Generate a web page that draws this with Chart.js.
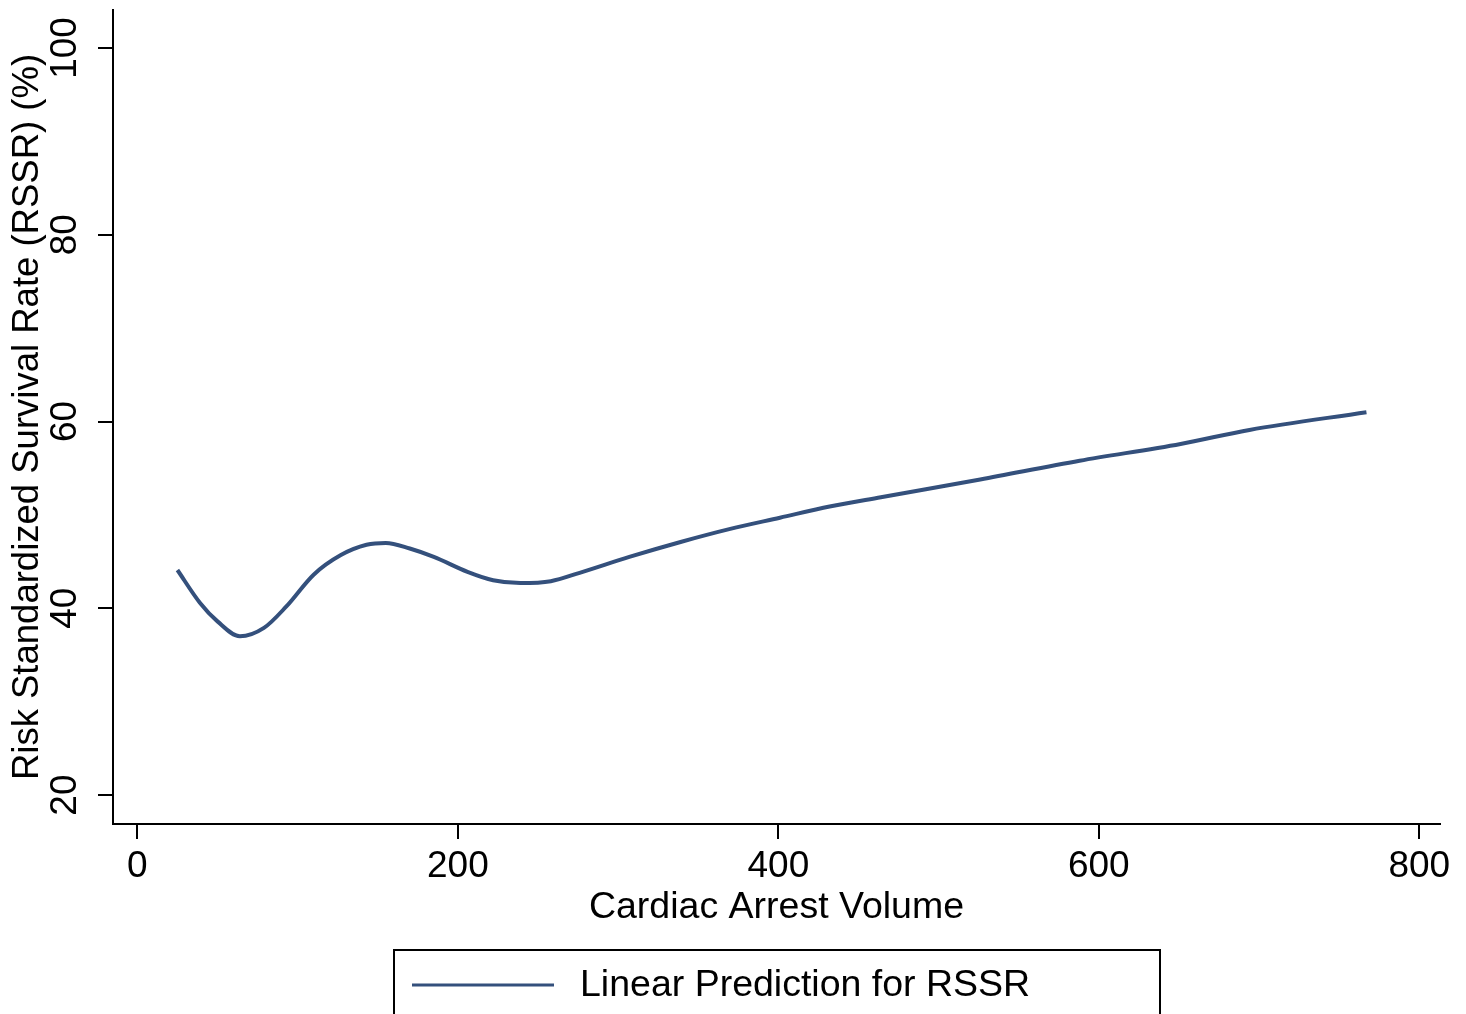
<!DOCTYPE html>
<html>
<head>
<meta charset="utf-8">
<style>
  html, body { margin: 0; padding: 0; background: #fff; }
  #wrap { width: 1466px; height: 1014px; }
</style>
<script src="https://cdn.jsdelivr.net/npm/chart.js@4.4.1/dist/chart.umd.min.js"></script>
</head>
<body>
<div id="wrap"><canvas id="chart" width="1466" height="1014"></canvas></div>
<script>
// Data
var volume = [25, 39, 50, 64, 79, 93, 110, 127, 143, 155, 170, 185, 206, 222, 239, 258, 276, 307, 339, 370, 401, 432, 464, 526, 588, 651, 694, 767];
var rssr = [44.1, 40.6, 38.6, 37.0, 37.9, 40.2, 43.6, 45.7, 46.8, 47.0, 46.4, 45.5, 43.9, 43.0, 42.7, 42.9, 43.8, 45.5, 47.1, 48.5, 49.7, 50.9, 51.9, 53.8, 55.8, 57.6, 59.1, 61.0];
var xTicks = [0, 200, 400, 600, 800];
var yTicks = [20, 40, 60, 80, 100];
var seriesLabel = "Linear Prediction for RSSR";

var lineColor = "#34507c";
var font = "'Liberation Sans', Arial, sans-serif";

var points = volume.map(function (v, i) {
    return { x: v, y: rssr[i] };
});

// legend box like the Stata one under the plot
var boxLegend = {
    id: "boxLegend",
    afterDraw: function (chart) {
        var ctx = chart.ctx;
        ctx.save();
        ctx.strokeStyle = "#000";
        ctx.lineWidth = 2;
        ctx.strokeRect(394, 950, 766, 80);
        ctx.strokeStyle = lineColor;
        ctx.lineWidth = 3;
        ctx.beginPath();
        ctx.moveTo(412, 985);
        ctx.lineTo(554, 985);
        ctx.stroke();
        ctx.fillStyle = "#000";
        ctx.font = "37.5px " + font;
        ctx.textBaseline = "middle";
        ctx.fillText(seriesLabel, 580, 986);
        ctx.restore();
    },
};

new Chart("chart", {
    type: "line",
    data: {
        datasets: [
            {
                label: seriesLabel,
                data: points,
                borderColor: lineColor,
                borderWidth: 4,
                pointRadius: 0,
                fill: false,
                cubicInterpolationMode: "monotone",
            },
        ],
    },
    options: {
        responsive: false,
        animation: false,
        layout: {
            padding: { top: 10, right: 26, bottom: 80, left: 0 },
        },
        plugins: {
            legend: { display: false },
            tooltip: { enabled: false },
        },
        scales: {
            x: {
                type: "linear",
                min: -15.2,
                max: 812.9,
                afterBuildTicks: function (scale) {
                    scale.ticks = xTicks.map(function (v) {
                        return { value: v };
                    });
                },
                afterFit: function (scale) {
                    scale.height = 110;
                    scale.paddingLeft = 0;
                    scale.paddingRight = 0;
                },
                grid: {
                    display: true,
                    drawOnChartArea: false,
                    drawTicks: true,
                    tickLength: 15,
                    color: "#000",
                    lineWidth: 2,
                },
                border: { display: true, color: "#000", width: 2 },
                ticks: {
                    color: "#000",
                    font: { family: font, size: 37 },
                    padding: 6,
                    maxRotation: 0,
                },
                title: {
                    display: true,
                    text: "Cardiac Arrest Volume",
                    color: "#000",
                    font: { family: font, size: 37.5 },
                    padding: { top: 0, bottom: 4 },
                },
            },
            y: {
                min: 16.9,
                max: 104.07,
                afterBuildTicks: function (scale) {
                    scale.ticks = yTicks.map(function (v) {
                        return { value: v };
                    });
                },
                afterFit: function (scale) {
                    scale.width = 113;
                    scale.paddingTop = 0;
                    scale.paddingBottom = 0;
                },
                grid: {
                    display: true,
                    drawOnChartArea: false,
                    drawTicks: true,
                    tickLength: 15,
                    color: "#000",
                    lineWidth: 2,
                },
                border: { display: true, color: "#000", width: 2 },
                ticks: {
                    color: "#000",
                    font: { family: font, size: 37 },
                    padding: 1,
                    minRotation: 90,
                    maxRotation: 90,
                    crossAlign: "center",
                },
                title: {
                    display: true,
                    text: "Risk Standardized Survival Rate (RSSR) (%)",
                    color: "#000",
                    font: { family: font, size: 36.5 },
                    padding: { top: 6, bottom: 0 },
                },
            },
        },
    },
    plugins: [boxLegend],
});
</script>
</body>
</html>
